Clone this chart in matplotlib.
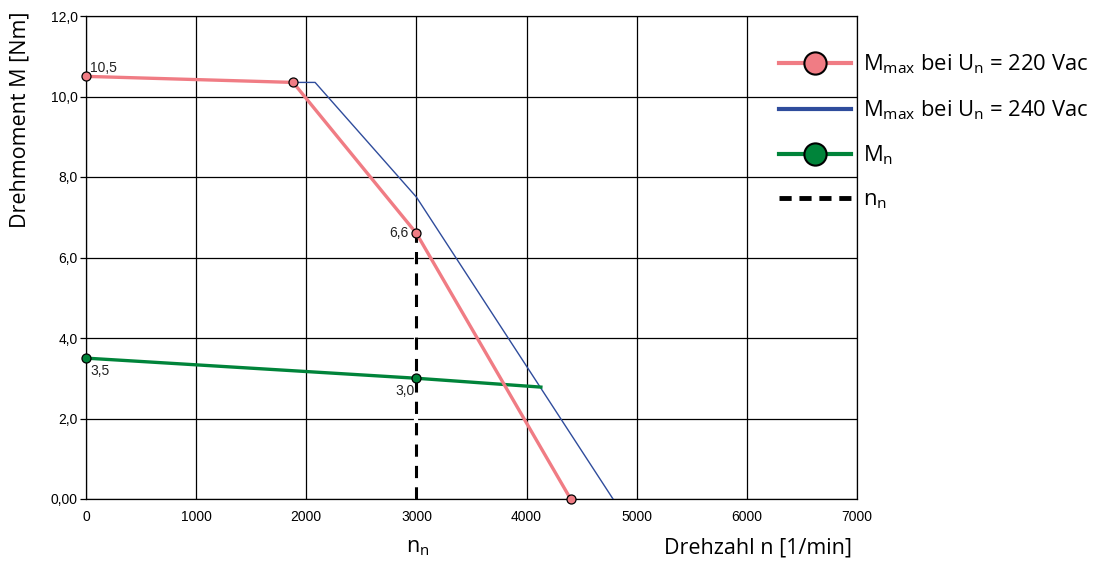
import matplotlib
matplotlib.use("Agg")
import matplotlib.pyplot as plt
from matplotlib.lines import Line2D

# data
n_220 = [0, 1880, 3000, 4400]
m_220 = [10.5, 10.35, 6.6, 0.0]
n_240 = [0, 1880, 2080, 3000, 4785]
m_240 = [10.5, 10.35, 10.35, 7.5, 0.0]
n_mn = [0, 3000, 4130]
m_mn = [3.5, 3.0, 2.78]
n_nenn = [3000, 3000]
m_nenn = [0.0, 6.6]

x_ticks = [0, 1000, 2000, 3000, 4000, 5000, 6000, 7000]
y_ticks = [0, 2, 4, 6, 8, 10, 12]
y_labels = ["0,00", "2,0", "4,0", "6,0", "8,0", "10,0", "12,0"]

RED = "#F07C84"
BLUE = "#2F4C9C"
GREEN = "#00843A"

plt.rcParams["mathtext.fontset"] = "custom"
plt.rcParams["mathtext.rm"] = "Open Sans"
plt.rcParams["mathtext.it"] = "Open Sans"

fig = plt.figure(figsize=(10.98, 5.65), dpi=100)
ax = fig.add_axes([86 / 1098, 1 - 499 / 565, (857 - 86) / 1098, (499 - 16) / 565])

ax.set_xlim(0, 7000)
ax.set_ylim(0, 12)
ax.set_xticks(x_ticks)
ax.set_yticks(y_ticks)
ax.set_yticklabels(y_labels)
ax.grid(True, color="black", lw=0.9)
ax.set_axisbelow(True)
for s in ax.spines.values():
    s.set_color("black")
    s.set_linewidth(0.9)
ax.tick_params(axis="x", length=0, pad=8, labelsize=10)
ax.tick_params(axis="y", length=4, width=0.9, pad=2, labelsize=10)
for lab in ax.get_xticklabels() + ax.get_yticklabels():
    lab.set_fontfamily("Liberation Sans")

# white underlay hides the grid line in the gaps of the dashed n_n line
ax.plot(n_nenn, m_nenn, color="white", lw=3, zorder=2.5)
ax.plot(n_nenn, m_nenn, color="black", lw=2.2, ls=(0, (4, 3)), zorder=3)
ax.plot(n_240, m_240, color=BLUE, lw=1.0, zorder=3)
ax.plot(n_mn, m_mn, color=GREEN, lw=2.4, marker="o", markevery=[0, 1], ms=6.5,
        mfc=GREEN, mec="black", mew=0.9, clip_on=False, zorder=4)
ax.plot(n_220, m_220, color=RED, lw=2.4, marker="o", ms=6.5,
        mfc=RED, mec="black", mew=0.9, clip_on=False, zorder=5)

af = dict(fontsize=10, family="Liberation Sans", color="#222222")
ax.annotate("10,5", (n_220[0], m_220[0]), xytext=(3, 3), textcoords="offset points", **af)
ax.annotate("6,6", (n_220[2], m_220[2]), xytext=(-6, 0), textcoords="offset points",
            ha="right", va="center", **af)
ax.annotate("3,5", (n_mn[0], m_mn[0]), xytext=(3, -4), textcoords="offset points", va="top", **af)
ax.annotate("3,0", (n_mn[1], m_mn[1]), xytext=(-1, -4), textcoords="offset points",
            ha="right", va="top", **af)

handles = [
    Line2D([], [], color=RED, lw=3, marker="o", ms=16, mfc=RED, mec="black", mew=1.5),
    Line2D([], [], color=BLUE, lw=3),
    Line2D([], [], color=GREEN, lw=3, marker="o", ms=16, mfc=GREEN, mec="black", mew=1.5),
    Line2D([], [], color="black", lw=3.5, ls=(0, (2.5, 1.6))),
]
labels = [
    r"M$_{\mathrm{max}}$ bei U$_{\mathrm{n}}$ = 220 Vac",
    r"M$_{\mathrm{max}}$ bei U$_{\mathrm{n}}$ = 240 Vac",
    r"M$_{\mathrm{n}}$",
    r"n$_{\mathrm{n}}$",
]
fig.legend(handles, labels, loc="upper left", bbox_to_anchor=(770 / 1098, 1 - 44 / 565),
           frameon=False, prop={"family": "Open Sans", "size": 15.8},
           handlelength=3.3, handletextpad=0.55, labelspacing=1.0, borderaxespad=0)

fig.text(20 / 1098, 1 - 12 / 565, "Drehmoment M [Nm]", rotation=90, ha="center", va="top",
         family="Open Sans", fontsize=15.5)
fig.text(852 / 1098, 1 - 548 / 565, "Drehzahl n [1/min]", ha="right", va="center",
         family="Open Sans", fontsize=15.5)
fig.text(418 / 1098, 1 - 548 / 565, r"n$_{\mathrm{n}}$", ha="center", va="center",
         family="Open Sans", fontsize=15.5)

fig.savefig("out.png", dpi=100)
